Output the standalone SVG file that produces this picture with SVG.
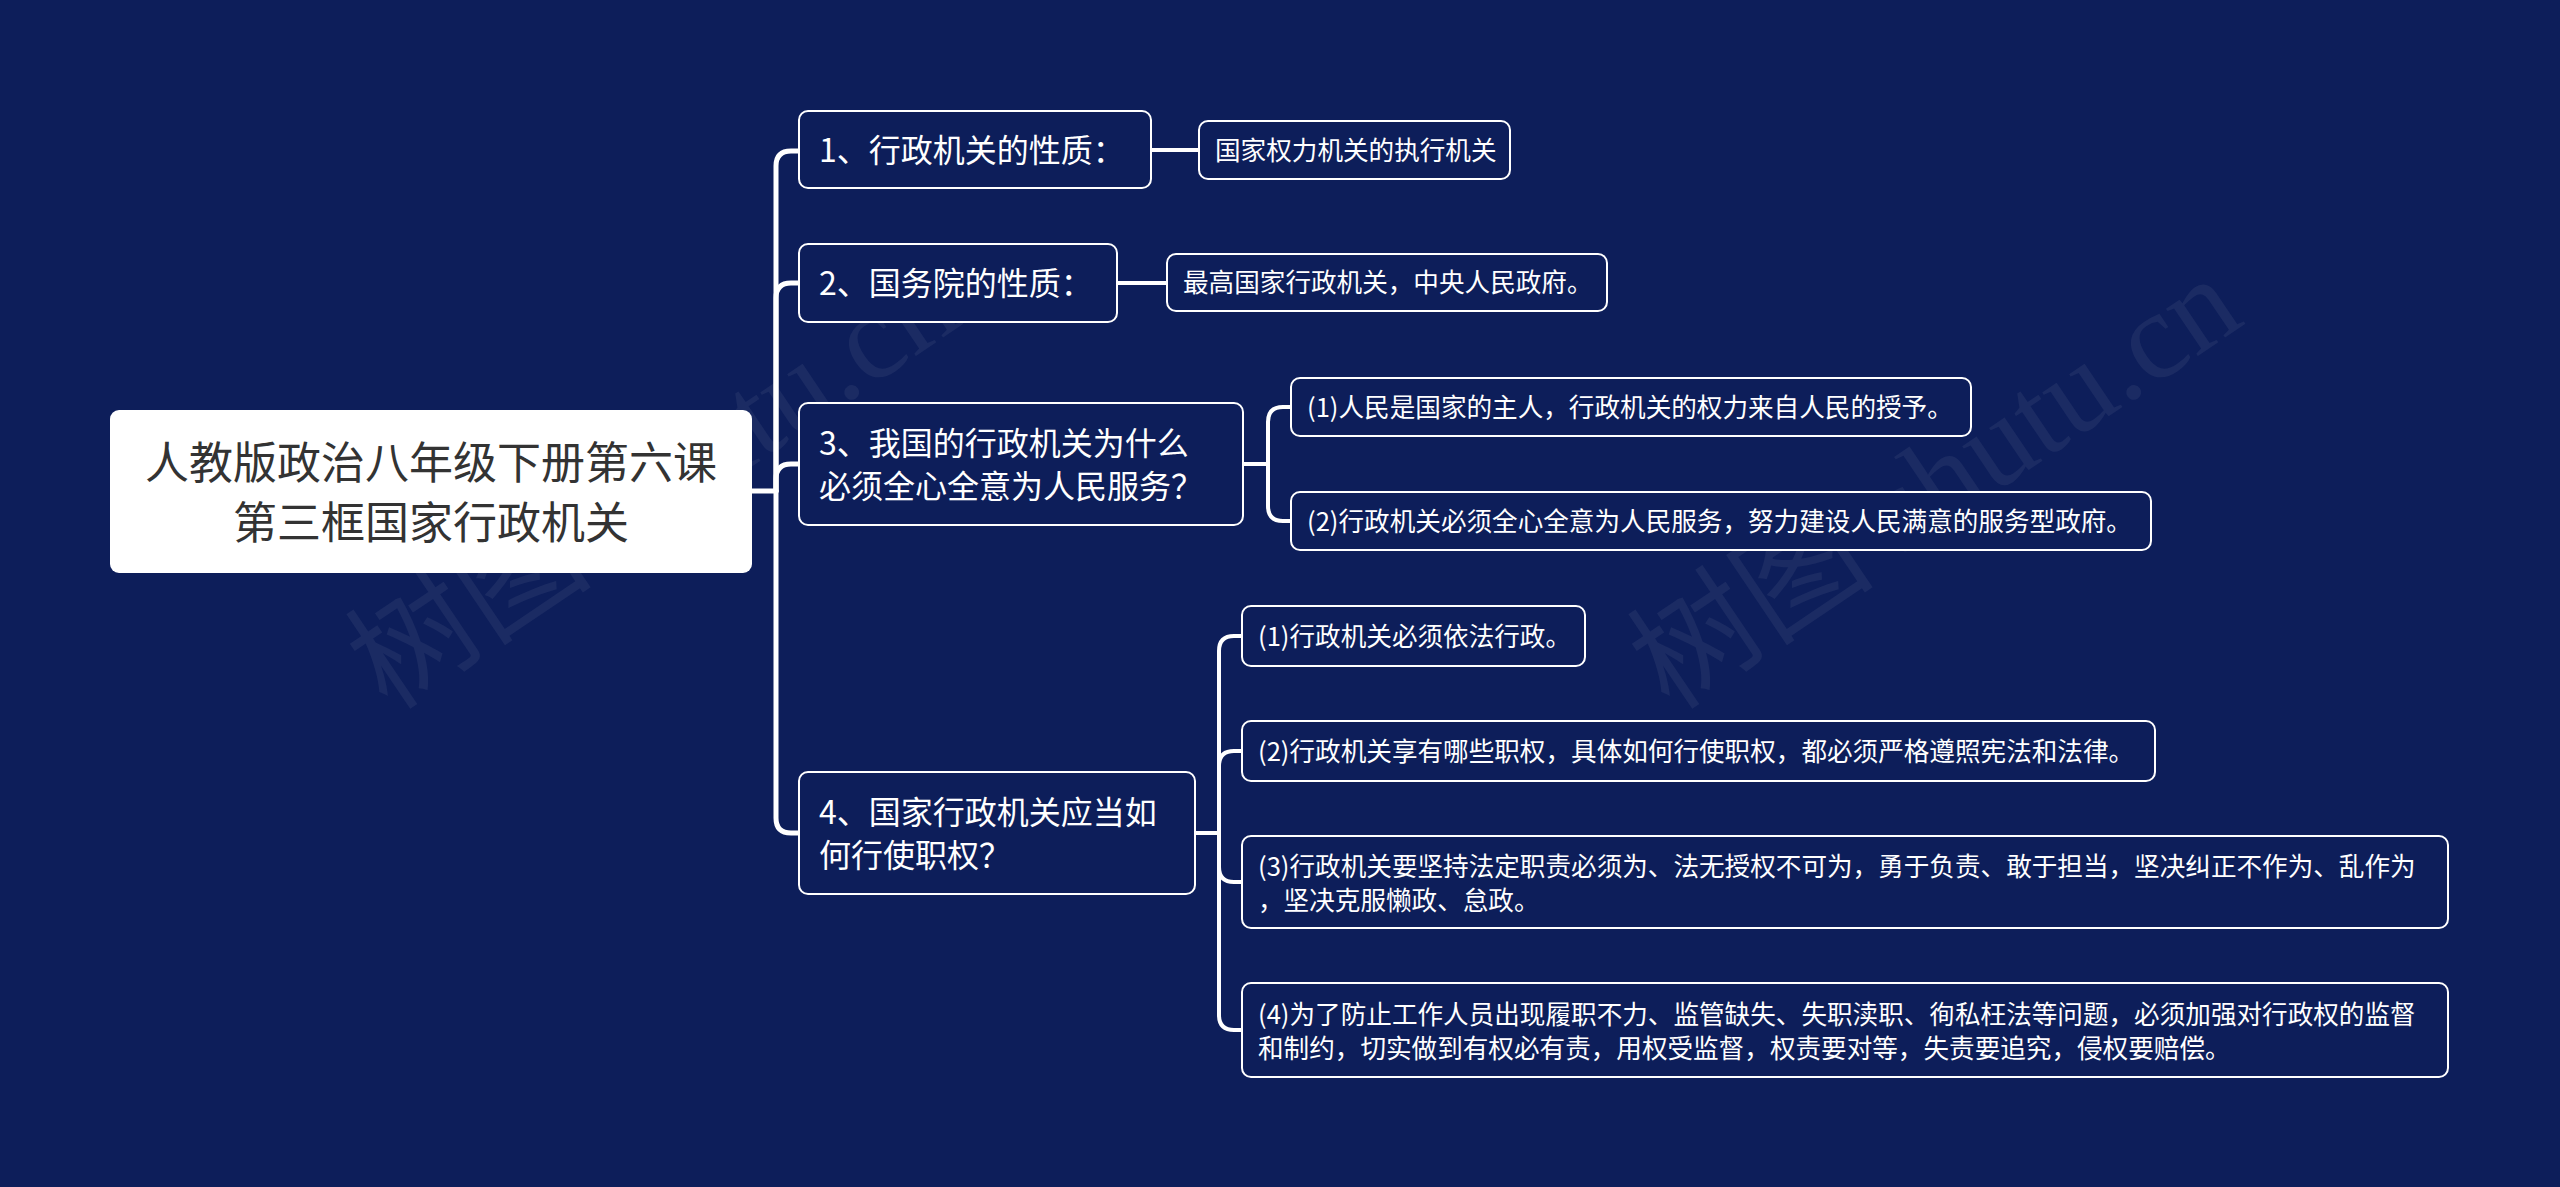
<svg xmlns="http://www.w3.org/2000/svg" width="2560" height="1187" viewBox="0 0 2560 1187">
<style>
.bg{fill:#0d1e5a}
.wm{font-family:"Liberation Serif","Noto Sans CJK SC",serif;font-size:124px;fill:#ffffff;fill-opacity:0.06}
.root rect{fill:#ffffff;stroke:none}
.root text{font-family:"Noto Sans CJK SC","Noto Sans",sans-serif;font-size:44px;fill:#333333;text-anchor:middle}
.l1 rect{fill:#0d1e5a;stroke:#ffffff;stroke-width:2}
.l1 text{font-family:"Noto Sans CJK SC","Noto Sans",sans-serif;font-size:32px;fill:#ffffff}
.l2 rect{fill:#0d1e5a;stroke:#ffffff;stroke-width:2}
.l2 text{font-family:"Noto Sans CJK SC","Noto Sans",sans-serif;font-size:25.6px;fill:#ffffff}
.c1{fill:none;stroke:#ffffff;stroke-width:5;stroke-linecap:round}
.c2{fill:none;stroke:#ffffff;stroke-width:4;stroke-linecap:round}
</style>
<rect class="bg" x="0" y="0" width="2560" height="1187"/>
<g id="watermarks">
<text class="wm" transform="translate(388 712) rotate(-34)">树图 shutu.cn</text>
<text class="wm" transform="translate(1670 712) rotate(-34)">树图 shutu.cn</text>
</g>
<g id="connectors">
<path class="c1" d="M752 491 H776"/>
<path class="c1" d="M776 491 V166 Q776 151 791 151 H799"/>
<path class="c1" d="M776 491 V298 Q776 283 791 283 H799"/>
<path class="c1" d="M776 491 V479 Q776 464 791 464 H799"/>
<path class="c1" d="M776 491 V818 Q776 833 791 833 H799"/>
<path class="c2" d="M1151 150 H1199"/>
<path class="c2" d="M1117 283 H1167"/>
<path class="c2" d="M1243 464 H1268"/>
<path class="c2" d="M1268 464 V422 Q1268 407 1283 407 H1291"/>
<path class="c2" d="M1268 464 V506 Q1268 521 1283 521 H1291"/>
<path class="c2" d="M1195 833 H1219"/>
<path class="c2" d="M1219 833 V651 Q1219 636 1234 636 H1242"/>
<path class="c2" d="M1219 833 V766 Q1219 751 1234 751 H1242"/>
<path class="c2" d="M1219 833 V867 Q1219 882 1234 882 H1242"/>
<path class="c2" d="M1219 833 V1015 Q1219 1030 1234 1030 H1242"/>
</g>
<g id="root" class="root">
<rect x="110" y="410" width="642" height="163" rx="9"/>
<text x="431" y="479">人教版政治八年级下册第六课</text>
<text x="431" y="539">第三框国家行政机关</text>
</g>
<g id="n1" class="l1">
<rect x="799" y="111" width="352" height="77" rx="9"/>
<text x="819" y="162">1、行政机关的性质：</text>
</g>
<g id="n2" class="l1">
<rect x="799" y="244" width="318" height="78" rx="9"/>
<text x="819" y="295">2、国务院的性质：</text>
</g>
<g id="n3" class="l1">
<rect x="799" y="403" width="444" height="122" rx="9"/>
<text x="819" y="455">3、我国的行政机关为什么</text>
<text x="819" y="498">必须全心全意为人民服务？</text>
</g>
<g id="n4" class="l1">
<rect x="799" y="772" width="396" height="122" rx="9"/>
<text x="819" y="824">4、国家行政机关应当如</text>
<text x="819" y="867">何行使职权？</text>
</g>
<g id="n1a" class="l2">
<rect x="1199" y="121" width="311" height="58" rx="9"/>
<text x="1215" y="160">国家权力机关的执行机关</text>
</g>
<g id="n2a" class="l2">
<rect x="1167" y="254" width="440" height="57" rx="9"/>
<text x="1183" y="292">最高国家行政机关，中央人民政府。</text>
</g>
<g id="n3a" class="l2">
<rect x="1291" y="378" width="680" height="58" rx="9"/>
<text x="1307" y="417">(1)人民是国家的主人，行政机关的权力来自人民的授予。</text>
</g>
<g id="n3b" class="l2">
<rect x="1291" y="492" width="860" height="58" rx="9"/>
<text x="1307" y="531">(2)行政机关必须全心全意为人民服务，努力建设人民满意的服务型政府。</text>
</g>
<g id="n4a" class="l2">
<rect x="1242" y="606" width="343" height="60" rx="9"/>
<text x="1258" y="646">(1)行政机关必须依法行政。</text>
</g>
<g id="n4b" class="l2">
<rect x="1242" y="721" width="913" height="60" rx="9"/>
<text x="1258" y="761">(2)行政机关享有哪些职权，具体如何行使职权，都必须严格遵照宪法和法律。</text>
</g>
<g id="n4c" class="l2">
<rect x="1242" y="836" width="1206" height="92" rx="9"/>
<text x="1258" y="876">(3)行政机关要坚持法定职责必须为、法无授权不可为，勇于负责、敢于担当，坚决纠正不作为、乱作为</text>
<text x="1258" y="910">，坚决克服懒政、怠政。</text>
</g>
<g id="n4d" class="l2">
<rect x="1242" y="983" width="1206" height="94" rx="9"/>
<text x="1258" y="1024">(4)为了防止工作人员出现履职不力、监管缺失、失职渎职、徇私枉法等问题，必须加强对行政权的监督</text>
<text x="1258" y="1058">和制约，切实做到有权必有责，用权受监督，权责要对等，失责要追究，侵权要赔偿。</text>
</g>
</svg>
